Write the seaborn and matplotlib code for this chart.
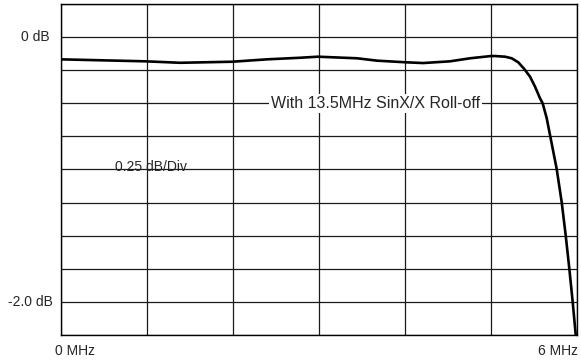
import matplotlib
matplotlib.use("Agg")
import matplotlib.pyplot as plt
import seaborn as sns
import pandas as pd
from matplotlib.ticker import MultipleLocator

# Data
freq_mhz = [0.0, 0.454, 0.989, 1.385, 1.99, 2.397, 2.78, 2.99, 3.444, 3.677,
            4.003, 4.212, 4.526, 4.759, 5.003, 5.049, 5.166, 5.244, 5.321, 5.39,
            5.457, 5.515, 5.573, 5.604, 5.651, 5.689, 5.767, 5.825, 5.872, 5.914,
            5.953, 5.988]
gain_db = [-0.168, -0.175, -0.183, -0.194, -0.186, -0.168, -0.156, -0.148, -0.160, -0.178,
           -0.190, -0.196, -0.183, -0.160, -0.143, -0.143, -0.148, -0.160, -0.191, -0.241,
           -0.299, -0.374, -0.462, -0.500, -0.612, -0.738, -0.995, -1.245, -1.497, -1.748,
           -1.998, -2.245]

y_labels = ["0 dB", "-2.0 dB"]
x_labels = ["0 MHz", "6 MHz"]
annotation = "With 13.5MHz SinX/X Roll-off"
scale_label = "0.25 dB/Div"

df = pd.DataFrame({"freq": freq_mhz, "gain": gain_db})

sns.set_theme(style="white")
plt.rcParams["font.family"] = ["Liberation Sans", "DejaVu Sans"]

fig = plt.figure(figsize=(5.81, 3.64), dpi=100)
ax = fig.add_axes([61 / 581, 1 - 335 / 364, (576.7 - 61) / 581, (335 - 4) / 364])

sns.lineplot(data=df, x="freq", y="gain", ax=ax, color="black", linewidth=1.9,
             sort=False, zorder=3)

ax.set_xlim(0, 6)
ax.set_ylim(-2.25, 0.25)
ax.xaxis.set_major_locator(MultipleLocator(1))
ax.yaxis.set_major_locator(MultipleLocator(0.25))
ax.grid(True, color="#1a1a1a", linewidth=0.9)
ax.set_axisbelow(True)
ax.tick_params(length=0, labelbottom=False, labelleft=False)
ax.set_xlabel("")
ax.set_ylabel("")
for s in ax.spines.values():
    s.set_color("black")
    s.set_linewidth(1.0)

fs = 10
ax.text(-0.128, 0.0, y_labels[0], ha="right", va="center", fontsize=fs, clip_on=False)
ax.text(-0.093, -2.0, y_labels[1], ha="right", va="center", fontsize=fs, clip_on=False)
ax.text(-0.07, -2.373, x_labels[0], ha="left", va="center", fontsize=fs, clip_on=False)
ax.text(6.015, -2.373, x_labels[1], ha="right", va="center", fontsize=fs, clip_on=False)

ax.text(2.443, -0.5, annotation, ha="left", va="center", fontsize=11.5, zorder=4,
        bbox=dict(facecolor="white", edgecolor="none", pad=1.5))
ax.text(0.628, -1.015, scale_label, ha="left", va="baseline", fontsize=fs, zorder=4)

fig.savefig("out.png", dpi=100)
